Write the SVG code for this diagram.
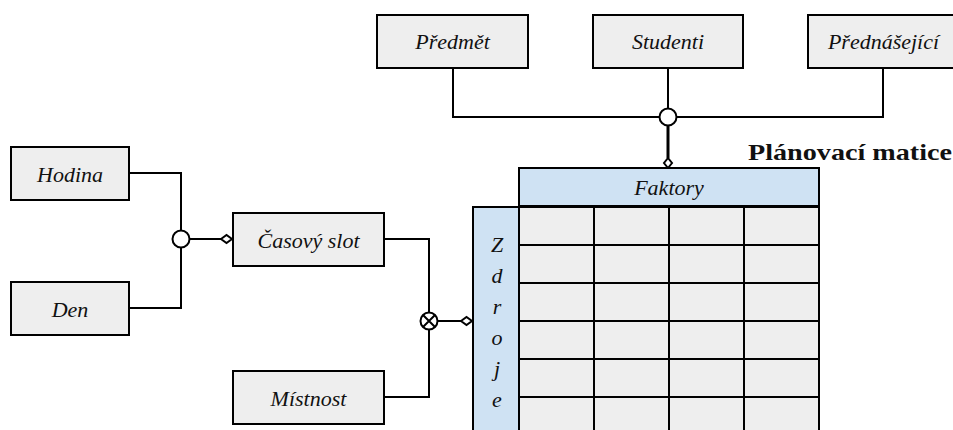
<svg xmlns="http://www.w3.org/2000/svg" width="953" height="430" viewBox="0 0 953 430">
<defs>
<style>
.box{fill:#eeeeee;stroke:#000;stroke-width:2}
.hdr{fill:#cfe2f3;stroke:#000;stroke-width:2}
.cell{fill:#eeeeee;stroke:#000;stroke-width:2}
.lbl{font-family:'Liberation Serif','DejaVu Serif',serif;font-style:italic;font-size:22px;fill:#111;text-anchor:middle}
.title{font-family:'Liberation Serif','DejaVu Serif',serif;font-weight:bold;font-size:23px;fill:#111}
.ln{fill:none;stroke:#000;stroke-width:2}
.jn{fill:#fff;stroke:#000;stroke-width:2}
.dm{fill:#fff;stroke:#000;stroke-width:2}
</style>
</defs>
<rect width="953" height="430" fill="#fff"/>

<g id="connectors">
  <path class="ln" d="M453,68 V117 H883 V68"/>
  <path class="ln" d="M668,68 V117"/>
  <path d="M668,126 V158" fill="none" stroke="#000" stroke-width="3"/>
  <circle class="jn" cx="668" cy="117" r="8.5"/>
  <polygon class="dm" points="668,158 672,163 668,168 664,163"/>
  <path class="ln" d="M129,173 H181 V308 H129"/>
  <path class="ln" d="M190,239 H221"/>
  <circle class="jn" cx="181" cy="239" r="8.5"/>
  <polygon class="dm" points="221,239 226.5,235 232,239 226.5,243"/>
  <path class="ln" d="M384,239 H429 V397 H384"/>
  <path class="ln" d="M438,321 H461"/>
  <circle class="jn" cx="429" cy="321" r="8.5"/>
  <path class="ln" d="M423,315 L435,327 M435,315 L423,327"/>
  <polygon class="dm" points="461,321 466.5,317 472,321 466.5,325"/>
</g>

<g id="predmet">
  <rect class="box" x="377" y="15" width="151" height="53"/>
  <text class="lbl" x="452.5" y="49">Předmět</text>
</g>
<g id="studenti">
  <rect class="box" x="593" y="15" width="150" height="53"/>
  <text class="lbl" x="668" y="49">Studenti</text>
</g>
<g id="prednasejici">
  <rect class="box" x="808" y="15" width="151" height="53"/>
  <text class="lbl" x="883.5" y="49">Přednášející</text>
</g>
<g id="hodina">
  <rect class="box" x="11" y="147" width="118" height="53"/>
  <text class="lbl" x="70" y="182">Hodina</text>
</g>
<g id="den">
  <rect class="box" x="11" y="282" width="118" height="53"/>
  <text class="lbl" x="70" y="317">Den</text>
</g>
<g id="casovy-slot">
  <rect class="box" x="233" y="213" width="151" height="53"/>
  <text class="lbl" x="308.5" y="248">Časový slot</text>
</g>
<g id="mistnost">
  <rect class="box" x="233" y="371" width="151" height="53"/>
  <text class="lbl" x="308.5" y="406">Místnost</text>
</g>

<g id="planovaci-matice">
  <text class="title" x="748" y="160" textLength="204" lengthAdjust="spacingAndGlyphs">Plánovací matice</text>
  <rect class="hdr" x="519" y="168" width="300" height="38"/>
  <text class="lbl" x="669" y="195">Faktory</text>
  <rect class="hdr" x="473" y="207" width="46" height="240"/>
  <g class="lbl">
    <text x="497" y="252">Z</text>
    <text x="497" y="283">d</text>
    <text x="497" y="314">r</text>
    <text x="497" y="345">o</text>
    <text x="497" y="376">j</text>
    <text x="497" y="407">e</text>
  </g>
  <rect class="cell" x="519" y="207" width="300" height="240"/>
  <path class="ln" d="M594,207 V447 M669,207 V447 M744,207 V447 M519,245 H819 M519,283 H819 M519,321 H819 M519,359 H819 M519,397 H819 M519,435 H819"/>
</g>
</svg>
